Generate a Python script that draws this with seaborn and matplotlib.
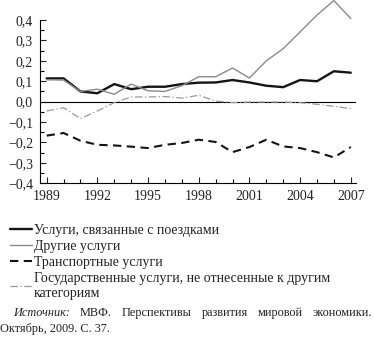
import matplotlib
matplotlib.use("Agg")
import matplotlib.pyplot as plt
import matplotlib.ticker as mticker
import numpy as np
import pandas as pd
import seaborn as sns

years = list(range(1989, 2008))

travel = [0.114, 0.114, 0.050, 0.041, 0.086, 0.061, 0.073, 0.073, 0.086, 0.093,
          0.094, 0.106, 0.094, 0.078, 0.071, 0.106, 0.100, 0.149, 0.142]
other = [0.107, 0.106, 0.050, 0.061, 0.036, 0.086, 0.053, 0.050, 0.078, 0.122,
         0.122, 0.165, 0.116, 0.200, 0.260, 0.342, 0.425, 0.496, 0.408]
transport = [-0.167, -0.154, -0.192, -0.212, -0.215, -0.221, -0.228, -0.212, -0.203, -0.187,
             -0.198, -0.248, -0.223, -0.187, -0.220, -0.228, -0.248, -0.274, -0.223]
government = [-0.046, -0.030, -0.083, -0.046, -0.005, 0.023, 0.023, 0.025, 0.017, 0.031,
              0.003, -0.005, -0.002, -0.002, -0.002, -0.005, -0.013, -0.023, -0.035]

series_names = [
    "Услуги, связанные с поездками",
    "Другие услуги",
    "Транспортные услуги",
    "Государственные услуги, не отнесенные к другим\nкатегориям",
]
x_tick_years = [1989, 1992, 1995, 1998, 2001, 2004, 2007]
y_ticks = [-0.4, -0.3, -0.2, -0.1, 0.0, 0.1, 0.2, 0.3, 0.4]
source_line1 = ["Источник:", "МВФ.", "Перспективы", "развития", "мировой", "экономики."]
source_line2 = "Октябрь, 2009. С. 37."

sns.set_style("ticks")
plt.rcParams["font.family"] = ["Liberation Serif", "DejaVu Serif"]
plt.rcParams["axes.unicode_minus"] = True

frames = []
for name, vals in zip(series_names, [travel, other, transport, government]):
    frames.append(pd.DataFrame({"year": years, "value": vals, "series": name}))
df = pd.concat(frames, ignore_index=True)

styles = {
    series_names[0]: dict(color="#151515", lw=1.7, ls="-"),
    series_names[1]: dict(color="#8a8a8a", lw=1.0, ls="-"),
    series_names[2]: dict(color="#151515", lw=1.5, ls=(0, (4, 2.6))),
    series_names[3]: dict(color="#9a9a9a", lw=0.9, ls=(0, (6, 2, 1, 2))),
}

fig = plt.figure(figsize=(3.73, 3.41), dpi=100)
ax = fig.add_axes([0.107, 0.463, 0.847, 0.478])

ax.axhline(0, color="black", lw=0.8, zorder=1)

for name in series_names:
    st = styles[name]
    sns.lineplot(data=df[df["series"] == name], x="year", y="value", ax=ax,
                 color=st["color"], linewidth=st["lw"], linestyle=st["ls"],
                 label=name, legend=False, clip_on=False, zorder=3)

ax.set_xlim(1988.6, 2007.3)
ax.set_ylim(-0.4, 0.4)
ax.set_xlabel("")
ax.set_ylabel("")
ax.set_xticks(x_tick_years)
ax.xaxis.set_minor_locator(mticker.MultipleLocator(1))
ax.set_yticks(y_ticks)
ax.yaxis.set_minor_locator(mticker.MultipleLocator(0.05))


def fmt(v, pos):
    s = f"{abs(v):.1f}".replace(".", ",")
    return ("\u2212" + s) if v < -1e-9 else s


ax.yaxis.set_major_formatter(mticker.FuncFormatter(fmt))
ax.tick_params(axis="both", which="both", direction="in", color="black", width=0.8)
ax.tick_params(axis="both", which="major", length=4, labelsize=10, colors="#222222")
ax.tick_params(axis="both", which="minor", length=3)
ax.tick_params(axis="y", pad=5)
ax.tick_params(axis="x", pad=5)
for side in ["top", "right"]:
    ax.spines[side].set_visible(False)
for side in ["left", "bottom"]:
    ax.spines[side].set_color("black")
    ax.spines[side].set_linewidth(0.8)

handles, labels = ax.get_legend_handles_labels()
fig.legend(handles, labels, loc="upper left", bbox_to_anchor=(10 / 373, 1 - 224 / 341),
           frameon=False, fontsize=10, handlelength=1.6, handletextpad=0.12,
           labelspacing=0.21, borderpad=0, borderaxespad=0, labelcolor="#222222")

# justified source note
fig.canvas.draw()
renderer = fig.canvas.get_renderer()
left_px, right_px = 13, 372
y1 = 1 - 313 / 341
src_size = 8.8
texts = []
widths = []
for w in source_line1:
    t = fig.text(0, y1, w, fontsize=src_size, va="center", ha="left", color="#222222",
                 style="italic" if w == "Источник:" else "normal")
    texts.append(t)
    widths.append(t.get_window_extent(renderer).width)
gap = (right_px - left_px - sum(widths)) / (len(widths) - 1)
xpos = left_px
for t, w in zip(texts, widths):
    t.set_x(xpos / 373)
    xpos += w + gap
fig.text(0 / 373, 1 - 329 / 341, source_line2, fontsize=src_size, va="center", ha="left",
         color="#222222")

fig.savefig("out.png", dpi=100)
